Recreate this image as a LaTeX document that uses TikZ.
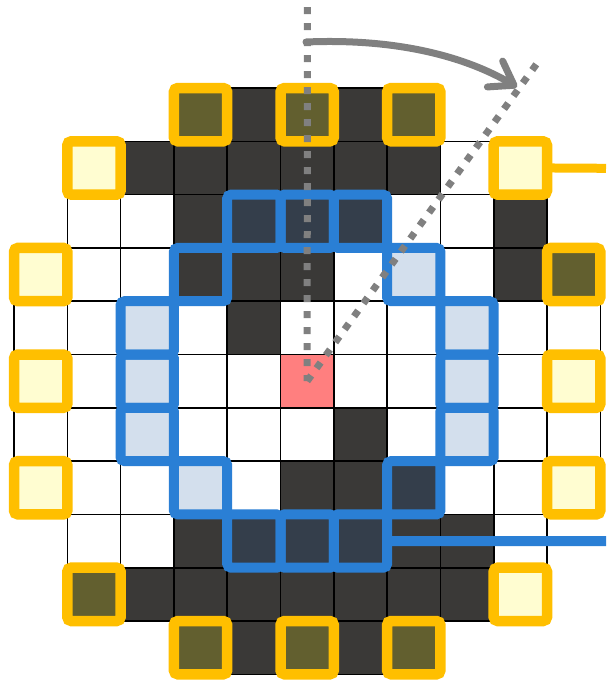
\documentclass[tikz,border=0pt]{standalone}
\usetikzlibrary{arrows.meta}
\definecolor{darkcell}{RGB}{58,57,55}
\definecolor{navycell}{RGB}{52,62,75}
\definecolor{olivecell}{RGB}{98,95,47}
\definecolor{lightyel}{RGB}{255,253,209}
\definecolor{lightblu}{RGB}{211,223,237}
\definecolor{redcell}{RGB}{255,127,127}
\definecolor{hlyellow}{RGB}{255,191,0}
\definecolor{hlblue}{RGB}{42,127,213}
\definecolor{guidegray}{RGB}{128,128,128}
\tikzset{
  cell/.style={rectangle, draw=black, line width=1.6pt, minimum size=53.3pt, inner sep=0pt, outer sep=0pt},
  bluebox/.style={draw=hlblue, line width=10pt, rounded corners=4pt},
  yelbox/.style={draw=hlyellow, line width=10.5pt, rounded corners=4pt},
  blueline/.style={draw=hlblue, line width=10pt},
  yelline/.style={draw=hlyellow, line width=9pt},
  dotline/.style={draw=guidegray, line width=7pt, dash pattern=on 7pt off 9pt},
  arrowline/.style={draw=guidegray, line width=7pt, line cap=round, -{Straight Barb[length=22pt,width=30pt,round]}}
}
\begin{document}
\begin{tikzpicture}[x=1pt,y=-1pt]
\useasboundingbox (0,0) rectangle (606,681);
% grid cells
\foreach \r/\a/\b in {0/3/7,1/1/9,2/1/9,3/0/10,4/0/10,5/0/10,6/0/10,7/0/10,8/1/9,9/1/9,10/3/7}{
  \foreach \c in {\a,...,\b}{
    \node[cell, fill=white] (c-\r-\c) at ({14+(\c+0.5)*53.3},{88+(\r+0.5)*53.3}) {};
  }
}
% filled cells
\foreach \r/\c/\col in {
  0/3/olivecell,0/4/darkcell,0/5/olivecell,0/6/darkcell,0/7/olivecell,
  1/1/lightyel,1/2/darkcell,1/3/darkcell,1/4/darkcell,1/5/darkcell,1/6/darkcell,1/7/darkcell,1/9/lightyel,
  2/3/darkcell,2/4/navycell,2/5/navycell,2/6/navycell,2/9/darkcell,
  3/0/lightyel,3/3/darkcell,3/4/darkcell,3/5/darkcell,3/7/lightblu,3/9/darkcell,3/10/olivecell,
  4/2/lightblu,4/4/darkcell,4/8/lightblu,
  5/0/lightyel,5/2/lightblu,5/5/redcell,5/8/lightblu,5/10/lightyel,
  6/2/lightblu,6/6/darkcell,6/8/lightblu,
  7/0/lightyel,7/3/lightblu,7/5/darkcell,7/6/darkcell,7/7/navycell,7/10/lightyel,
  8/3/darkcell,8/4/navycell,8/5/navycell,8/6/navycell,8/7/darkcell,8/8/darkcell,
  9/1/olivecell,9/2/darkcell,9/3/darkcell,9/4/darkcell,9/5/darkcell,9/6/darkcell,9/7/darkcell,9/8/darkcell,9/9/lightyel,
  10/3/olivecell,10/4/darkcell,10/5/olivecell,10/6/darkcell,10/7/olivecell}{
  \node[cell, fill=\col] at (c-\r-\c) {};
}
% free ends
\coordinate (yend) at (606,168.3);
\coordinate (bend) at (606,541.1);
\coordinate (vtop) at (307.4,7);
\coordinate (dtop) at (538,62);
\coordinate (astart) at (306,42);
\coordinate (aend) at (517,87);
% blue outlines
\draw[blueline] (c-8-6.east) -- (bend);
\foreach \r/\c in {2/4,2/5,2/6,3/3,3/7,4/2,4/8,5/2,5/8,6/2,6/8,7/3,7/7,8/4,8/5,8/6}{
  \draw[bluebox] (c-\r-\c.north west) rectangle (c-\r-\c.south east);
}
% yellow outlines
\draw[yelline] (c-1-9.east) -- (yend);
\foreach \r/\c in {0/3,0/5,0/7,1/1,1/9,3/0,3/10,5/0,5/10,7/0,7/10,9/1,9/9,10/3,10/5,10/7}{
  \draw[yelbox] (c-\r-\c.north west) rectangle (c-\r-\c.south east);
}
% guides
\draw[dotline] (vtop) -- (c-5-5.center);
\draw[dotline] (c-5-5.center) -- (dtop);
\draw[arrowline] (astart) .. controls (400,38) and (468,58) .. (aend);
\end{tikzpicture}
\end{document}
